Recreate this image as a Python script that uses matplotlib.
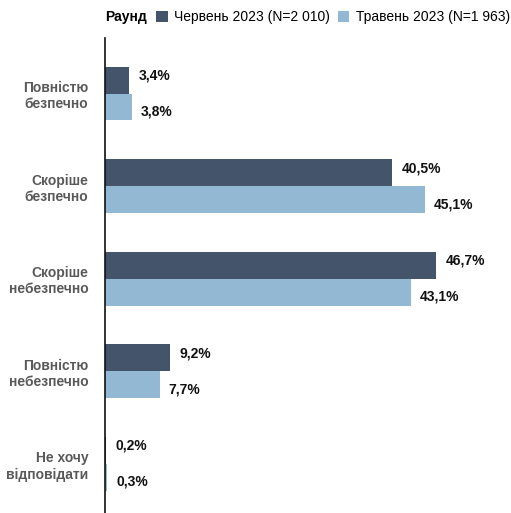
import matplotlib.pyplot as plt
import numpy as np

plt.rcParams['font.family'] = ['Liberation Sans', 'DejaVu Sans']

categories = ['Повністю\nбезпечно', 'Скоріше\nбезпечно', 'Скоріше\nнебезпечно',
              'Повністю\nнебезпечно', 'Не хочу\nвідповідати']
june = [3.4, 40.5, 46.7, 9.2, 0.2]
may = [3.8, 45.1, 43.1, 7.7, 0.3]
series_labels = ['Червень 2023 (N=2 010)', 'Травень 2023 (N=1 963)']
colors = ['#44546a', '#93b8d3']

fig = plt.figure(figsize=(5.11, 5.13), dpi=100)
ax = fig.add_axes([105 / 511, 0, 400 / 511, 475 / 513])

y = np.arange(len(categories))
h = 0.29
b1 = ax.barh(y - h / 2, june, height=h, color=colors[0], label=series_labels[0])
b2 = ax.barh(y + h / 2, may, height=h, color=colors[1], label=series_labels[1])

# labels sit slightly away from the group centre, as in the original
for bars, vals, dy in [(b1, june, -0.05), (b2, may, 0.05)]:
    for bar, v in zip(bars, vals):
        ax.text(v + 1.3, bar.get_y() + bar.get_height() / 2 + dy,
                f'{v:.1f}%'.replace('.', ','), va='center', ha='left',
                fontsize=10, fontweight='bold', color='#111111')

ax.set_xlim(0, 400 / 7.09)
ax.set_ylim(4.53, -0.6)
ax.set_yticks(y)
ax.set_yticklabels(categories, fontsize=10, fontweight='bold', color='#595959',
                   ha='right')
ax.tick_params(axis='y', length=0, pad=12)
ax.set_xticks([])
for s in ['top', 'right', 'bottom']:
    ax.spines[s].set_visible(False)
ax.spines['left'].set_linewidth(1.2)
ax.spines['left'].set_color('#111111')

fig.text(105 / 511, 1 - 17 / 513, 'Раунд', fontsize=10, fontweight='bold',
         va='center', ha='left')
fig.legend(handles=[b1, b2], loc='center left', ncol=2,
           bbox_to_anchor=(156 / 511, 1 - 17 / 513), frameon=False,
           fontsize=10, handlelength=0.85, handleheight=0.85,
           handletextpad=0.45, columnspacing=0.55, borderpad=0, borderaxespad=0)

fig.savefig('out.png', dpi=100)
